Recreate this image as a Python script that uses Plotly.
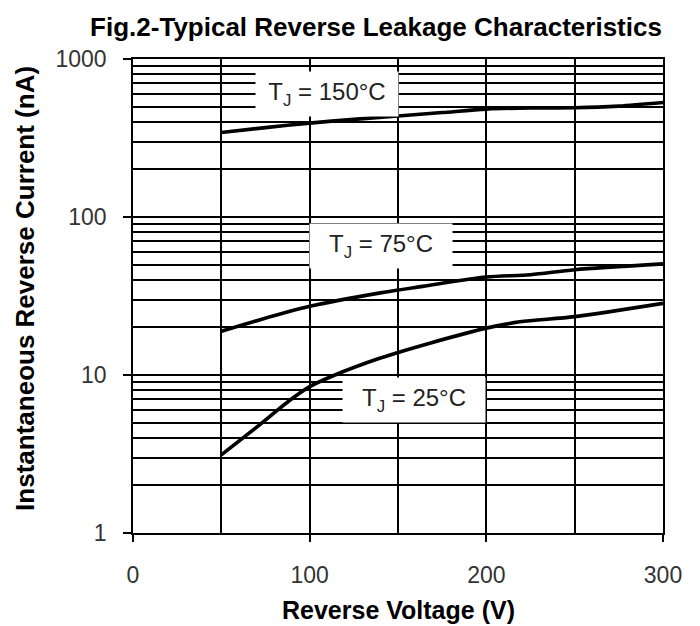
import math
import plotly.graph_objects as go

# Data
v_150 = [50, 75, 100, 125, 150, 175, 200, 225, 250, 275, 300]
i_150 = [343, 368, 393, 415, 436, 458, 482, 490, 491, 503, 530]

v_75 = [50, 72, 100, 140, 164, 200, 225, 250, 300]
i_75 = [18.9, 22.4, 27.2, 33.1, 36.4, 41.7, 43.1, 46.4, 50.5]

v_25 = [50, 70, 89, 100, 113, 140, 168, 200, 219, 250, 300]
i_25 = [3.12, 4.68, 6.95, 8.44, 9.86, 12.8, 15.9, 19.8, 21.7, 23.4, 28.4]

labels = ["T<sub>J</sub> = 150°C", "T<sub>J</sub> = 75°C", "T<sub>J</sub> = 25°C"]
label_x = [109.8, 140.4, 159.3]
label_y = [603, 65.8, 6.9]

x_ticks = [0, 100, 200, 300]
x_minor = [50, 150, 250]
y_ticks = [1, 10, 100, 1000]
y_tick_text = ["1", "10", "100", "1000"]
y_minor = [m * d for d in (1, 10, 100) for m in range(2, 10)]

FONT = "Liberation Sans, Arial, sans-serif"

# page has an 8px body margin; figure is sized to fit the window
W, H = 692, 618

fig = go.Figure()
for xs, ys in ((v_150, i_150), (v_75, i_75), (v_25, i_25)):
    fig.add_trace(go.Scatter(x=xs, y=ys, mode="lines",
                             line=dict(color="black", width=3.6, shape="spline", smoothing=0.8),
                             showlegend=False, hoverinfo="skip"))

for t, lx, ly in zip(labels, label_x, label_y):
    fig.add_annotation(x=lx, y=math.log10(ly), xref="x", yref="y", text=t, showarrow=False,
                       bgcolor="white", width=142, height=44, borderpad=0,
                       font=dict(family=FONT, size=24, color="#222"))

fig.add_annotation(text="<b>Reverse Voltage (V)</b>", xref="paper", yref="paper",
                   x=0.5, y=0, yshift=-77, showarrow=False, yanchor="middle",
                   font=dict(family=FONT, size=25, color="black"))
fig.add_annotation(text="<b>Instantaneous Reverse Current (nA)</b>", xref="paper", yref="paper",
                   x=0, y=0.515, xshift=-108, showarrow=False, textangle=-90, xanchor="center",
                   font=dict(family=FONT, size=26, color="black"))

fig.update_layout(
    width=W, height=H,
    margin=dict(l=125, r=37, t=51, b=93),
    paper_bgcolor="white", plot_bgcolor="white",
    title=dict(text="<b>Fig.2-Typical Reverse Leakage Characteristics</b>",
               x=(376 - 8) / W, xanchor="center", y=1 - 19 / H, yanchor="middle",
               font=dict(family=FONT, size=26, color="black")),
    xaxis=dict(range=[0, 300], tickvals=x_ticks, ticks="outside", ticklen=7, tickwidth=1.5,
               tickcolor="black", showgrid=True, gridcolor="black", gridwidth=1.5,
               showline=True, linecolor="black", linewidth=1.5, mirror=True,
               zeroline=False, ticklabelstandoff=14,
               tickfont=dict(family=FONT, size=23, color="#333"),
               minor=dict(tickvals=x_minor, showgrid=True, gridcolor="black", gridwidth=1.5, ticks="")),
    yaxis=dict(type="log", range=[0, 3], tickvals=y_ticks, ticktext=y_tick_text,
               ticks="outside", ticklen=8, tickwidth=1.5, tickcolor="black",
               showgrid=True, gridcolor="black", gridwidth=1.5,
               showline=True, linecolor="black", linewidth=1.5, mirror=True,
               zeroline=False, ticklabelstandoff=12,
               tickfont=dict(family=FONT, size=23, color="#333"),
               minor=dict(tickvals=y_minor, showgrid=True, gridcolor="black", gridwidth=1.5, ticks="")),
)

fig.write_html("out.html")
